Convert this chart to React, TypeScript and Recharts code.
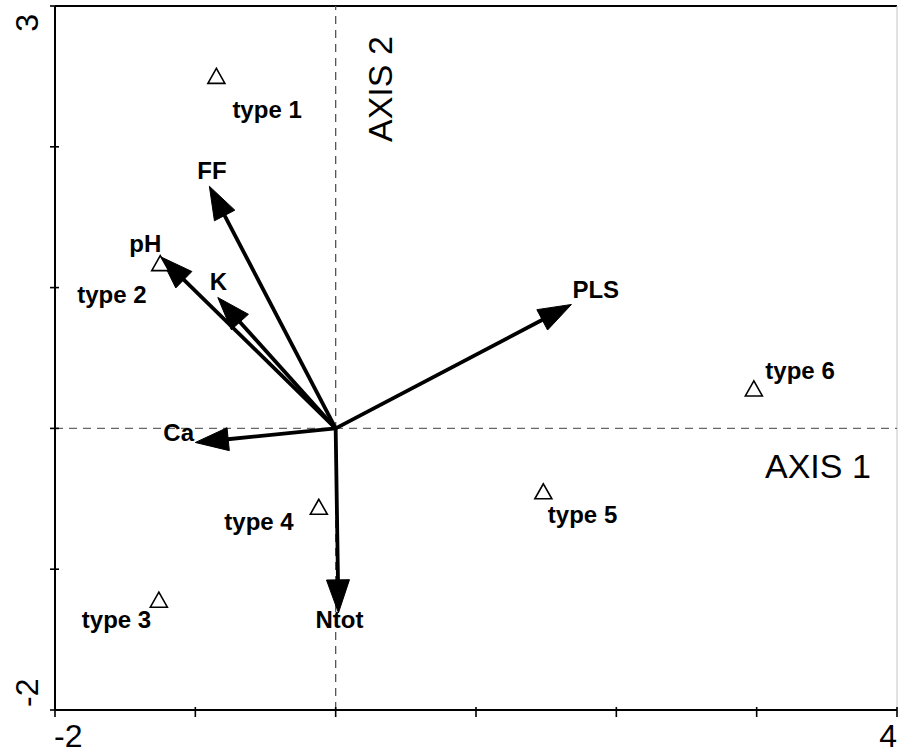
import React from 'react';
import { ScatterChart, Scatter, XAxis, YAxis, ReferenceLine } from 'recharts';

// ---- data ----
const siteNames = ['type 1', 'type 2', 'type 3', 'type 4', 'type 5', 'type 6'];
const siteAxis1 = [-0.85, -1.25, -1.26, -0.12, 1.48, 2.98];
const siteAxis2 = [2.5, 1.17, -1.22, -0.56, -0.45, 0.28];

const varNames = ['FF', 'pH', 'K', 'Ca', 'Ntot', 'PLS'];
const varAxis1 = [-0.9, -1.25, -0.84, -1.0, 0.02, 1.68];
const varAxis2 = [1.72, 1.22, 0.93, -0.1, -1.31, 0.88];

const xTicks = [-2, -1, 0, 1, 2, 3, 4];
const yTicks = [-2, -1, 0, 1, 2, 3];
const xTickLabels = ['-2', '4'];
const yTickLabels = ['-2', '3'];
const axis1Title = 'AXIS 1';
const axis2Title = 'AXIS 2';

// ---- layout (pixel offsets of text relative to its mark) ----
const siteLabelOffset: Record<string, [number, number]> = {
  'type 1': [16, 42],
  'type 2': [-83, 39],
  'type 3': [-77, 28],
  'type 4': [-94.5, 23],
  'type 5': [4.5, 31],
  'type 6': [11.5, -9.5],
};
const varLabelOffset: Record<string, [number, number]> = {
  FF: [-12, -7],
  pH: [-31, -5],
  K: [-8, -7],
  Ca: [-32, -1],
  Ntot: [-23, 15],
  PLS: [1, -6],
};

const FONT = '"Liberation Sans", Arial, Helvetica, sans-serif';

const siteData = siteNames.map((name, i) => ({ name, x: siteAxis1[i], y: siteAxis2[i] }));

const SiteMark = (props: any) => {
  const { cx, cy, payload } = props;
  if (cx == null || cy == null) return null;
  const off = siteLabelOffset[payload.name] || [0, 0];
  return (
    <g>
      <polygon
        points={`${cx},${cy - 8} ${cx - 8.5},${cy + 7} ${cx + 8.5},${cy + 7}`}
        fill="#fff"
        stroke="#000"
        strokeWidth={1.6}
      />
      <text x={cx + off[0]} y={cy + off[1]} fontFamily={FONT} fontWeight="bold" fontSize={24} fill="#000">
        {payload.name}
      </text>
    </g>
  );
};

const makeArrow = (name: string) => (props: any) => {
  const { x1, y1, x2, y2 } = props;
  const dx = x2 - x1;
  const dy = y2 - y1;
  const len = Math.hypot(dx, dy) || 1;
  const ux = dx / len;
  const uy = dy / len;
  const headLen = 33;
  const half = 11.5;
  const bx = x2 - ux * headLen;
  const by = y2 - uy * headLen;
  const px = -uy;
  const py = ux;
  const off = varLabelOffset[name] || [0, 0];
  return (
    <g>
      <line x1={x1} y1={y1} x2={bx + ux * 3} y2={by + uy * 3} stroke="#000" strokeWidth={3.8} />
      <polygon
        points={`${x2},${y2} ${bx + px * half},${by + py * half} ${bx - px * half},${by - py * half}`}
        fill="#000"
        stroke="#000"
        strokeWidth={1}
        strokeLinejoin="miter"
      />
      <text x={x2 + off[0]} y={y2 + off[1]} fontFamily={FONT} fontWeight="bold" fontSize={24} fill="#000">
        {name}
      </text>
    </g>
  );
};

const XTick = (props: any) => {
  const { x, y, payload } = props;
  const v = payload.value;
  const isMin = v === xTicks[0];
  const isMax = v === xTicks[xTicks.length - 1];
  return (
    <g>
      <line x1={x} x2={x} y1={y - 3} y2={y + 7} stroke="#000" strokeWidth={1.6} />
      {isMin && (
        <text x={x - 1} y={y + 37} textAnchor="start" fontFamily={FONT} fontSize={32} fill="#000">
          {xTickLabels[0]}
        </text>
      )}
      {isMax && (
        <text x={x} y={y + 37} textAnchor="end" fontFamily={FONT} fontSize={32} fill="#000">
          {xTickLabels[1]}
        </text>
      )}
    </g>
  );
};

const YTick = (props: any) => {
  const { x, y, payload } = props;
  const v = payload.value;
  const isMin = v === yTicks[0];
  const isMax = v === yTicks[yTicks.length - 1];
  const bx = x - 17;
  return (
    <g>
      <line x1={x - 5} x2={x + 4} y1={y} y2={y} stroke="#000" strokeWidth={1.6} />
      {isMin && (
        <text
          x={bx}
          y={y - 3}
          textAnchor="start"
          transform={`rotate(-90, ${bx}, ${y - 3})`}
          fontFamily={FONT}
          fontSize={32}
          fill="#000"
        >
          {yTickLabels[0]}
        </text>
      )}
      {isMax && (
        <text
          x={bx}
          y={y + 8}
          textAnchor="end"
          transform={`rotate(-90, ${bx}, ${y + 8})`}
          fontFamily={FONT}
          fontSize={32}
          fill="#000"
        >
          {yTickLabels[1]}
        </text>
      )}
    </g>
  );
};

const Axis2Label = (props: any) => {
  const vb = props.viewBox || {};
  const tx = vb.x + 56;
  const ty = vb.y + 136;
  return (
    <text x={tx} y={ty} transform={`rotate(-90, ${tx}, ${ty})`} fontFamily={FONT} fontSize={34} fill="#000">
      {axis2Title}
    </text>
  );
};

const Axis1Label = (props: any) => {
  const vb = props.viewBox || {};
  const tx = vb.x + vb.width - 132;
  const ty = vb.y + 50;
  return (
    <text x={tx} y={ty} fontFamily={FONT} fontSize={34} fill="#000">
      {axis1Title}
    </text>
  );
};

export default function App() {
  return (
    <div style={{ position: 'absolute', left: 0, top: 0, background: '#fff' }}>
      <ScatterChart width={898} height={755} margin={{ top: 6, right: 1, bottom: 0, left: 0 }}>
        <XAxis
          type="number"
          dataKey="x"
          domain={[-2, 4]}
          ticks={xTicks}
          interval={0}
          allowDataOverflow
          height={45}
          tickSize={0}
          tickMargin={0}
          tickLine={false}
          axisLine={{ stroke: '#000', strokeWidth: 2 }}
          tick={<XTick />}
        />
        <YAxis
          type="number"
          dataKey="y"
          domain={[-2, 3]}
          ticks={yTicks}
          interval={0}
          allowDataOverflow
          width={55}
          tickSize={0}
          tickMargin={0}
          tickLine={false}
          axisLine={{ stroke: '#000', strokeWidth: 2 }}
          tick={<YTick />}
        />
        <ReferenceLine y={3} stroke="#000" strokeWidth={2} ifOverflow="visible" />
        <ReferenceLine x={4} stroke="#c4c4c4" strokeWidth={1} ifOverflow="visible" />
        <ReferenceLine x={0} stroke="#555" strokeWidth={1.3} strokeDasharray="8 6" label={Axis2Label} />
        <ReferenceLine y={0} stroke="#666" strokeWidth={1.3} strokeDasharray="8 6" label={Axis1Label} />
        {varNames.map((name, i) => (
          <ReferenceLine
            key={name}
            segment={[
              { x: 0, y: 0 },
              { x: varAxis1[i], y: varAxis2[i] },
            ]}
            ifOverflow="visible"
            shape={makeArrow(name)}
          />
        ))}
        <Scatter data={siteData} shape={<SiteMark />} isAnimationActive={false} />
      </ScatterChart>
    </div>
  );
}
